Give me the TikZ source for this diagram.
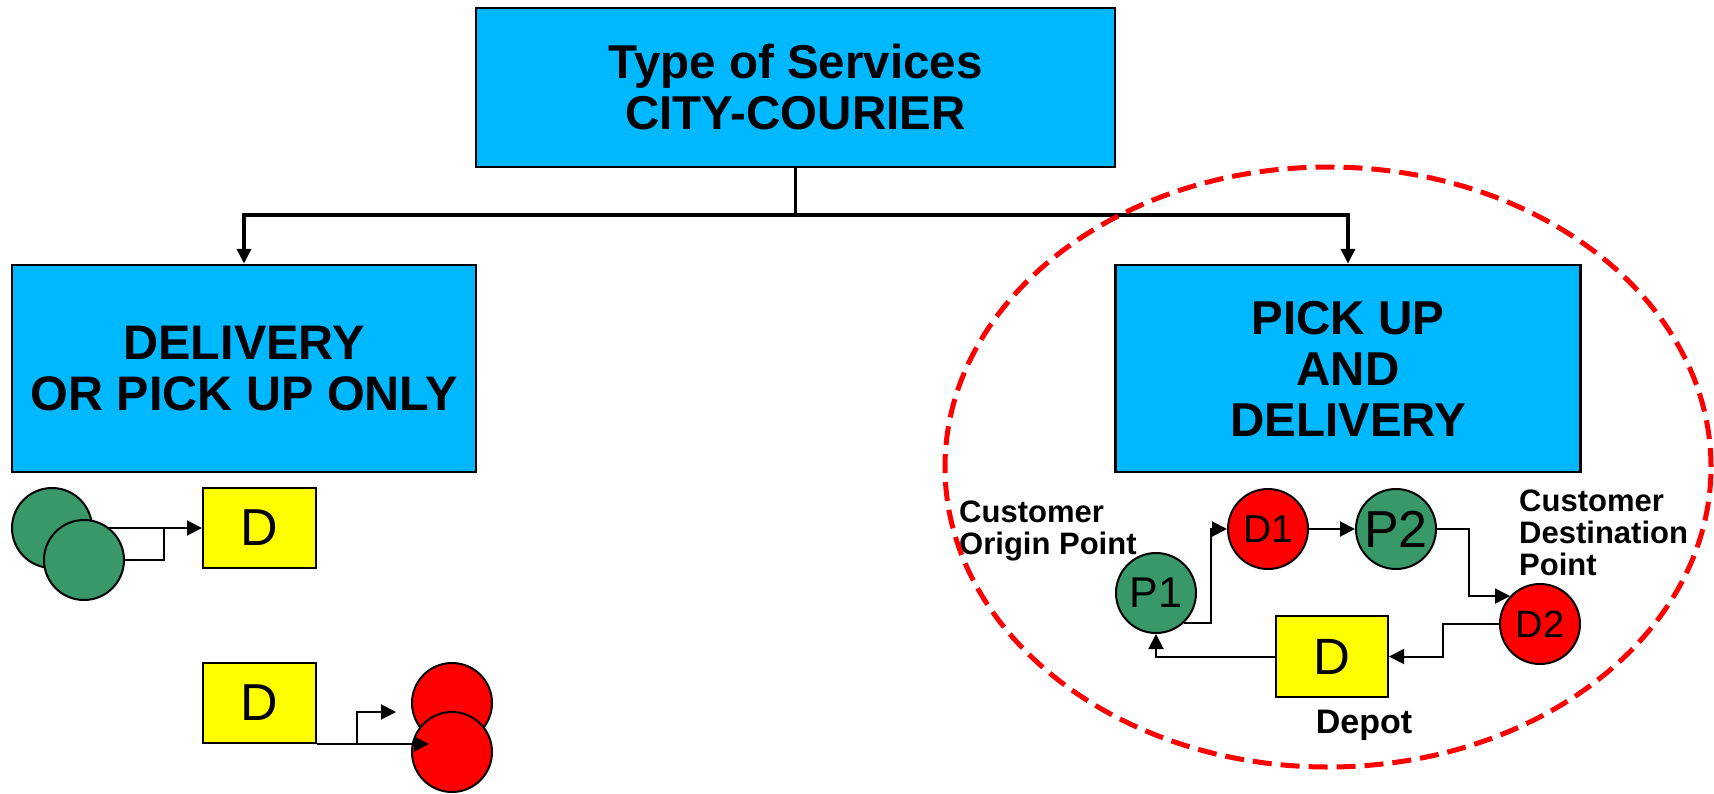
\documentclass[tikz,border=0pt]{standalone}
\usepackage{fontspec}
\setmainfont{Liberation Sans}
\usetikzlibrary{arrows.meta}
\definecolor{boxblue}{RGB}{0,184,255}
\definecolor{stopgreen}{RGB}{56,152,104}
\definecolor{stopred}{RGB}{255,0,0}
\definecolor{depotyellow}{RGB}{255,255,0}
\begin{document}
\begin{tikzpicture}[x=1pt,y=-1pt,
  servicebox/.style={draw=black,line width=2.5pt,fill=boxblue,align=center,
    inner sep=0pt,font=\fontsize{47.5}{51}\selectfont\bfseries},
  depotbox/.style={draw=black,line width=2pt,fill=depotyellow,inner sep=0pt,
    minimum width=113pt,minimum height=80pt,font=\fontsize{52}{52}\selectfont},
  pickstop/.style={circle,draw=black,line width=2pt,fill=stopgreen,inner sep=0pt,
    minimum size=80pt},
  dropstop/.style={circle,draw=black,line width=2pt,fill=stopred,inner sep=0pt,
    minimum size=80pt},
  branch/.style={line width=3.5pt,-{Triangle[length=15pt,width=14pt]}},
  flow/.style={line width=2pt,-{Triangle[length=15pt,width=15pt]}},
  plain/.style={line width=2pt},
  note/.style={font=\fontsize{31}{32}\selectfont\bfseries,align=left,inner sep=0pt},
]
\useasboundingbox (0,0) rectangle (1714,793);

% service hierarchy
\node[servicebox,minimum width=639pt,minimum height=159pt] (top) at (795.5,87.5)
  {Type of Services\\CITY-COURIER};
\node[servicebox,font=\fontsize{48.5}{51}\selectfont\bfseries,
  minimum width=464pt,minimum height=207pt] (only) at (244,368.5)
  {DELIVERY\\OR PICK UP ONLY};
\node[servicebox,minimum width=465pt,minimum height=207pt] (both) at (1348,368.5)
  {PICK UP\\AND\\DELIVERY};

\coordinate (bus) at (795.5,215);
\draw[line width=3.5pt] (top.south) -- (bus);
\draw[branch] (bus) -| (only.north);
\draw[branch] (bus) -| (both.north);

% pick-up only: two customers into the depot
\node[pickstop] (g1) at (52,528) {};
\node[depotbox] (dA) at (259.5,528) {D};
\draw[flow] (g1.east) -- (dA.west);
\node[pickstop] (g2) at (84,560) {};
\coordinate (j1) at (164,528);
\draw[plain] (g2.east) -| (j1);

% delivery only: depot out to two customers
\node[depotbox] (dB) at (259.5,703) {D};
\node[dropstop] (r1) at (452,703) {};
\node[dropstop] (r2) at (452,752) {};
\path (dB.south east) ++(40,0) coordinate (j2) ++(72,0) coordinate (e2);
\coordinate (e1) at (396,712);
\draw[plain] (dB.south east) -- (j2);
\draw[flow] (j2) |- (e1);
\draw[flow] (j2) -- (e2);

% pick up and delivery tour
\node[pickstop,font=\fontsize{43}{43}\selectfont] (p1) at (1156,593) {P1};
\node[dropstop,font=\fontsize{39}{39}\selectfont] (d1) at (1268,529) {D1};
\node[pickstop,font=\fontsize{52}{52}\selectfont] (p2) at (1396,529) {P2};
\node[dropstop,font=\fontsize{38}{38}\selectfont] (d2) at (1540,624) {D2};
\node[depotbox,minimum width=112pt,minimum height=81pt,font=\fontsize{51}{51}\selectfont]
  (dC) at (1332,656.5) {D};

\coordinate (c1) at (1211,529);
\path (d2.137) ++(-41,0) coordinate (c2);
\coordinate (c3) at (1443,656.5);
\draw[flow] (p1.-46) -| (c1) -- (d1.west);
\draw[flow] (d1.east) -- (p2.west);
\draw[flow] (p2.east) -| (c2) -- (d2.137);
\draw[flow] (d2.west) -| (c3) -- (dC.east);
\draw[flow] (dC.west) -| (p1.south);

\node[note,anchor=west] (orig) at (959,531) {Customer\\Origin Point};
\node[note,anchor=west] (dest) at (1519,533) {Customer\\Destination\\Point};
\node[font=\fontsize{34}{34}\selectfont\bfseries,inner sep=0pt] (depot) at (1364,725) {Depot};

% outline of the combined service
\draw[stopred,line width=5pt,dash pattern=on 19pt off 9pt]
  (1328,467) ellipse [x radius=383pt,y radius=300pt];
\end{tikzpicture}
\end{document}
